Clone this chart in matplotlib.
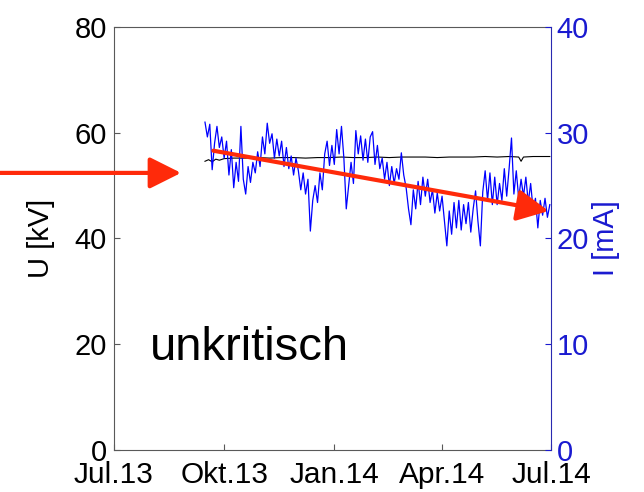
import numpy as np
import matplotlib.pyplot as plt

plt.rcParams['font.family'] = ['Liberation Sans', 'DejaVu Sans']

start = np.datetime64('2013-07-01')

# Strom I [mA], alle 2 Tage ab Tag 76 (Mitte Sept. 2013)
i_days = np.arange(76, 366, 2)
i_ma = [
    31.0, 29.6, 30.8, 26.5, 29.0, 30.6, 28.6, 29.6, 27.6, 29.2,
    26.0, 28.4, 24.8, 27.2, 25.4, 30.6, 25.6, 24.2, 26.8, 25.3,
    27.2, 26.2, 28.2, 26.8, 29.6, 28.0, 30.9, 29.0, 29.9, 27.6,
    29.4, 27.8, 29.2, 26.8, 28.6, 26.6, 27.8, 26.0, 27.6, 26.4,
    24.6, 26.2, 24.2, 25.6, 20.7, 23.6, 25.0, 23.4, 26.2, 24.6,
    28.0, 29.2, 26.9, 28.8, 27.0, 30.3, 28.0, 30.6, 27.6, 22.8,
    25.0, 27.2, 25.2, 30.2, 28.0, 29.7, 27.4, 29.4, 27.2, 29.6,
    30.1, 27.0, 28.8, 26.6, 27.6, 25.6, 27.2, 25.0, 26.8, 25.2,
    26.6, 25.6, 28.1, 26.0, 24.8, 22.8, 21.3, 24.6, 22.8, 25.4,
    23.2, 25.8, 24.0, 25.6, 23.4, 24.6, 22.4, 24.3, 22.6, 24.0,
    21.6, 19.3, 22.6, 20.4, 23.4, 21.0, 23.6, 20.8, 23.2, 21.4,
    23.4, 20.6, 22.8, 24.5, 21.6, 19.3, 24.4, 26.4, 23.6, 26.2,
    23.2, 25.8, 23.2, 25.2, 23.6, 26.6, 24.0, 26.6, 29.5, 24.2,
    26.4, 23.8, 25.6, 24.0, 25.8, 23.4, 25.2, 22.8, 23.8, 21.0,
    23.6, 22.2, 23.8, 22.0, 23.2,
]

# Spannung U [kV]
u_days = [76, 79, 82, 85, 88, 92, 100, 110, 120, 130, 140, 150, 160, 170,
          180, 190, 200, 210, 220, 230, 240, 250, 260, 270, 280, 290, 300,
          310, 320, 330, 338, 340, 342, 350, 360, 364]
u_kv = [54.6, 54.9, 54.5, 55.0, 54.8, 55.1, 55.2, 55.2, 55.3, 55.2, 55.3,
        55.3, 55.2, 55.3, 55.3, 55.4, 55.3, 55.3, 55.4, 55.3, 55.4, 55.4,
        55.4, 55.3, 55.4, 55.4, 55.4, 55.5, 55.4, 55.5, 55.4, 54.6, 55.4,
        55.5, 55.5, 55.5]

tick_dates = ['2013-07-01', '2013-10-01', '2014-01-01', '2014-04-01', '2014-07-01']
tick_labels = ['Jul.13', 'Okt.13', 'Jan.14', 'Apr.14', 'Jul.14']

# Trendpfeile: (Tag, Wert)
arrow_in = ((-95, 52.4), (56, 52.4))      # linke Achse, U
arrow_trend = ((83, 28.3), (363, 22.6))   # rechte Achse, I

t_i = start + i_days.astype('timedelta64[D]')
t_u = start + np.array(u_days).astype('timedelta64[D]')
ticks = np.array(tick_dates, dtype='datetime64[D]')

blue = '#0000ff'
blue_txt = '#1a1ad0'
red = '#ff2a0a'
grey = '0.35'

fig = plt.figure(figsize=(6.44, 4.92), dpi=100)
ax1 = fig.add_axes([0.177, 0.0854, 0.6786, 0.8598])
ax2 = ax1.twinx()

ax1.plot(t_u, u_kv, color='k', lw=0.8)
ax2.plot(t_i, i_ma, color=blue, lw=0.9)

ax1.set_xlim(ticks[0], ticks[-1])
ax1.set_xticks(ticks)
ax1.set_xticklabels(tick_labels)
ax1.set_ylim(0, 80)
ax1.set_yticks([0, 20, 40, 60, 80])
ax2.set_ylim(0, 40)
ax2.set_yticks([0, 10, 20, 30, 40])

for sp in ['left', 'bottom', 'top']:
    ax1.spines[sp].set_color(grey)
ax1.spines['right'].set_visible(False)
ax2.spines['left'].set_visible(False)
ax2.spines['bottom'].set_visible(False)
ax2.spines['top'].set_visible(False)
ax2.spines['right'].set_color('#2a2ab0')

ax1.tick_params(axis='both', direction='in', length=4, color=grey,
                labelcolor='k')
ax1.tick_params(axis='x', pad=8, labelsize=21.5)
ax1.tick_params(axis='y', pad=5, labelsize=21)
ax2.tick_params(axis='y', direction='in', length=4, labelsize=21,
                color=blue_txt, labelcolor=blue_txt, pad=4)

ax1.set_ylabel('U [kV]', fontsize=21)
ax1.yaxis.set_label_coords(-0.135, 0.5)
ax2.set_ylabel('I [mA]', fontsize=21, color=blue_txt)
ax2.yaxis.set_label_coords(1.094, 0.5)

ax1.text(0.082, 0.213, 'unkritisch', transform=ax1.transAxes,
         fontsize=34, va='baseline', ha='left')

props = dict(arrowstyle='-|>,head_length=0.8,head_width=0.4', color=red,
             lw=3, mutation_scale=24, shrinkA=0, shrinkB=0)
(d0, v0), (d1, v1) = arrow_in
ax1.annotate('', xy=(start + np.timedelta64(d1, 'D'), v1),
             xytext=(start + np.timedelta64(d0, 'D'), v0),
             arrowprops=props, annotation_clip=False)
(d0, v0), (d1, v1) = arrow_trend
ax2.annotate('', xy=(start + np.timedelta64(d1, 'D'), v1),
             xytext=(start + np.timedelta64(d0, 'D'), v0),
             arrowprops=props, annotation_clip=False)

fig.savefig('out.png', dpi=100)
